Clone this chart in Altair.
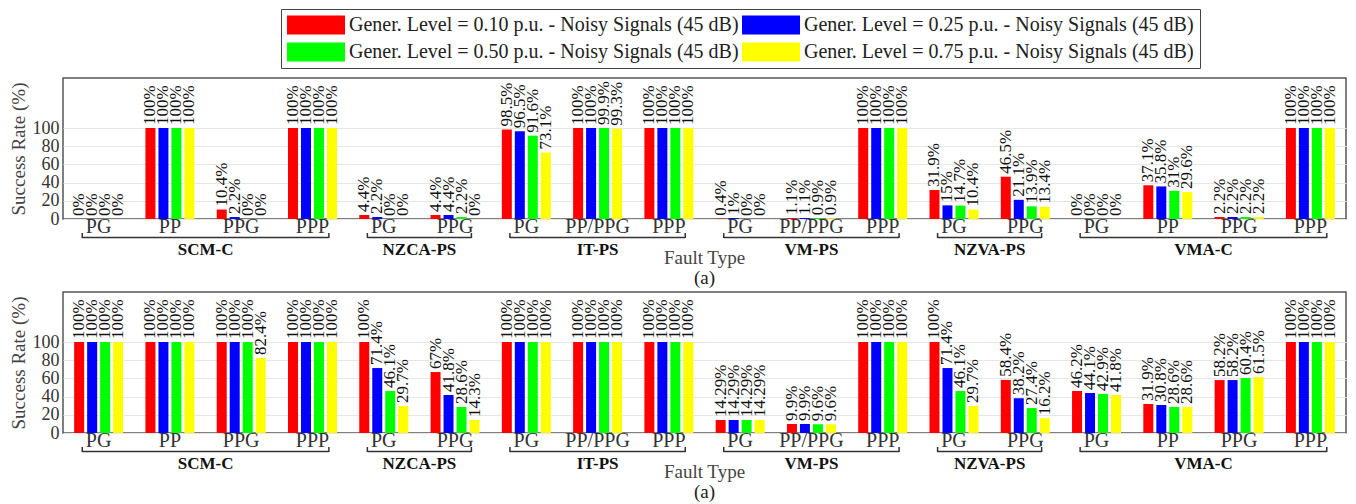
import altair as alt
import pandas as pd

methods = ["SCM-C", "NZCA-PS", "IT-PS", "VM-PS", "NZVA-PS", "VMA-C"]
method_faults = [
    ["PG", "PP", "PPG", "PPP"],
    ["PG", "PPG"],
    ["PG", "PP/PPG", "PPP"],
    ["PG", "PP/PPG", "PPP"],
    ["PG", "PPG"],
    ["PG", "PP", "PPG", "PPP"],
]
series = [
    "Gener. Level = 0.10 p.u. - Noisy Signals (45 dB)",
    "Gener. Level = 0.25 p.u. - Noisy Signals (45 dB)",
    "Gener. Level = 0.50 p.u. - Noisy Signals (45 dB)",
    "Gener. Level = 0.75 p.u. - Noisy Signals (45 dB)",
]
colors = ["#ff0000", "#0000ff", "#00ff00", "#ffff00"]

# Top panel values (one list per series, groups in order)
top_010 = [0, 100, 10.4, 100, 4.4, 4.4, 98.5, 100, 100, 0.4, 1.1, 100, 31.9, 46.5, 0, 37.1, 2.2, 100]
top_025 = [0, 100, 2.2, 100, 2.2, 4.4, 96.5, 100, 100, 1, 1.1, 100, 15, 21.1, 0, 35.8, 2.2, 100]
top_050 = [0, 100, 0, 100, 0, 2.2, 91.6, 99.9, 100, 0, 0.9, 100, 14.7, 13.9, 0, 31, 2.2, 100]
top_075 = [0, 100, 0, 100, 0, 0, 73.1, 99.3, 100, 0, 0.9, 100, 10.4, 13.4, 0, 29.6, 2.2, 100]

# Bottom panel values
bot_010 = [100, 100, 100, 100, 100, 67, 100, 100, 100, 14.29, 9.9, 100, 100, 58.4, 46.2, 31.9, 58.2, 100]
bot_025 = [100, 100, 100, 100, 71.4, 41.8, 100, 100, 100, 14.29, 9.9, 100, 71.4, 38.2, 44.1, 30.8, 58.2, 100]
bot_050 = [100, 100, 100, 100, 46.1, 28.6, 100, 100, 100, 14.29, 9.6, 100, 46.1, 27.4, 42.9, 28.6, 60.4, 100]
bot_075 = [100, 100, 82.4, 100, 29.7, 14.3, 100, 100, 100, 14.29, 9.6, 100, 29.7, 16.2, 41.8, 28.6, 61.5, 100]

y_ticks = [0, 20, 40, 60, 80, 100]

W = 1283
H = 141
FONT = "Liberation Serif"

# group keys
keys = []
bracket_rows = []
g = 0
for m, faults in zip(methods, method_faults):
    start = g
    for f in faults:
        keys.append((f"{g:02d}|{f}", m))
        g += 1
    bracket_rows.append({"method": m, "start": start, "end": g - 1})
NG = g
bdf = pd.DataFrame(bracket_rows)


def fmt(v):
    s = f"{v}"
    if s.endswith(".0"):
        s = s[:-2]
    return s + "%"


def panel(value_lists):
    rows = []
    for s, vals in zip(series, value_lists):
        for (k, m), v in zip(keys, vals):
            rows.append({"key": k, "method": m, "series": s, "value": v, "lab": fmt(v)})
    df = pd.DataFrame(rows)
    base = alt.Chart(df)
    xscale = alt.Scale(paddingInner=0, paddingOuter=0)
    xoff = alt.XOffset("series:N", sort=series,
                       scale=alt.Scale(paddingInner=0.23, paddingOuter=0.86))
    xaxis = alt.Axis(title=None, labelExpr="split(datum.label,'|')[1]",
                     labelAngle=0, labelFontSize=20, ticks=False, labelPadding=-3,
                     domain=False, grid=False, labelColor="#333", labelOverlap=False,
                     labelBaseline="top")
    yaxis = alt.Axis(title="Success Rate (%)", values=y_ticks,
                     ticks=False, domain=False, labelFontSize=18,
                     labelPadding=4, titleFontSize=19, titleFontWeight="normal",
                     titlePadding=4, titleColor="#444", labelColor="#333",
                     gridColor="#e6e6e6", labelOverlap=False)
    yscale = alt.Scale(domain=[0, 155], nice=False)
    bars = base.mark_bar().encode(
        x=alt.X("key:N", scale=xscale, sort=None, axis=xaxis),
        xOffset=xoff,
        y=alt.Y("value:Q", scale=yscale, axis=yaxis),
        color=alt.Color("series:N", scale=alt.Scale(domain=series, range=colors),
                        legend=alt.Legend(title=None, orient="none", legendX=218, legendY=-69,
                                          direction="horizontal", columns=2,
                                          symbolType="M-2.9,-0.95H2.9V0.95H-2.9Z",
                                          symbolSize=400, symbolStrokeWidth=0,
                                          symbolOffset=19,
                                          labelFontSize=20, labelFont=FONT, labelLimit=600,
                                          labelColor="#222", labelOffset=23,
                                          columnPadding=3, rowPadding=7, padding=6,
                                          strokeColor="#444", fillColor="#ffffff")),
    )
    labels = base.mark_text(angle=270, align="left", baseline="middle", dx=3,
                            fontSize=17, color="#111", font=FONT).encode(
        x=alt.X("key:N", scale=xscale, sort=None, axis=xaxis),
        xOffset=xoff,
        y=alt.Y("value:Q", scale=yscale, axis=yaxis),
        text="lab:N",
    )
    data_layer = alt.layer(bars, labels)

    br = alt.Chart(bdf).transform_calculate(
        x0="datum.start + 0.27", x1="datum.end + 0.73",
        xc="(datum.start + datum.end + 1) / 2")
    qs = alt.Scale(domain=[0, NG], nice=False, zero=False)
    hline = br.mark_rule(color="#333", strokeWidth=1.5).encode(
        x=alt.X("x0:Q", scale=qs, axis=None), x2="x1:Q", y=alt.value(H + 18.5))
    lt = br.mark_rule(color="#333", strokeWidth=1.5).encode(
        x=alt.X("x0:Q", scale=qs, axis=None), y=alt.value(H + 14), y2=alt.value(H + 19))
    rt = br.mark_rule(color="#333", strokeWidth=1.5).encode(
        x=alt.X("x1:Q", scale=qs, axis=None), y=alt.value(H + 14), y2=alt.value(H + 19))
    names = br.mark_text(fontSize=17, fontWeight="bold", baseline="middle", color="#111",
                         font=FONT).encode(
        x=alt.X("xc:Q", scale=qs, axis=None), y=alt.value(H + 31), text="method:N")
    cap = pd.DataFrame({"t": ["Fault Type"]})
    cap2 = pd.DataFrame({"t": ["(a)"]})
    ft = alt.Chart(cap).mark_text(fontSize=19, baseline="alphabetic", color="#444",
                                  font=FONT).encode(
        x=alt.value(W / 2), y=alt.value(H + 45), text="t:N")
    fa = alt.Chart(cap2).mark_text(fontSize=19, baseline="alphabetic", color="#222",
                                   font=FONT).encode(
        x=alt.value(W / 2), y=alt.value(H + 65), text="t:N")
    bracket_layer = alt.layer(hline, lt, rt, names, ft, fa)
    return alt.layer(data_layer, bracket_layer).resolve_scale(x="independent").properties(
        width=W, height=H)


p1 = panel([top_010, top_025, top_050, top_075])
p2 = panel([bot_010, bot_025, bot_050, bot_075])

chart = alt.vconcat(p1, p2, spacing=2).configure(
    font=FONT, padding={"left": 0, "top": 0, "right": 0, "bottom": 0}
).configure_view(stroke="#555", strokeWidth=1.5).configure_axisY(labelOverlap=False)

chart.save("out.html", embed_options={"renderer": "svg", "actions": False})
